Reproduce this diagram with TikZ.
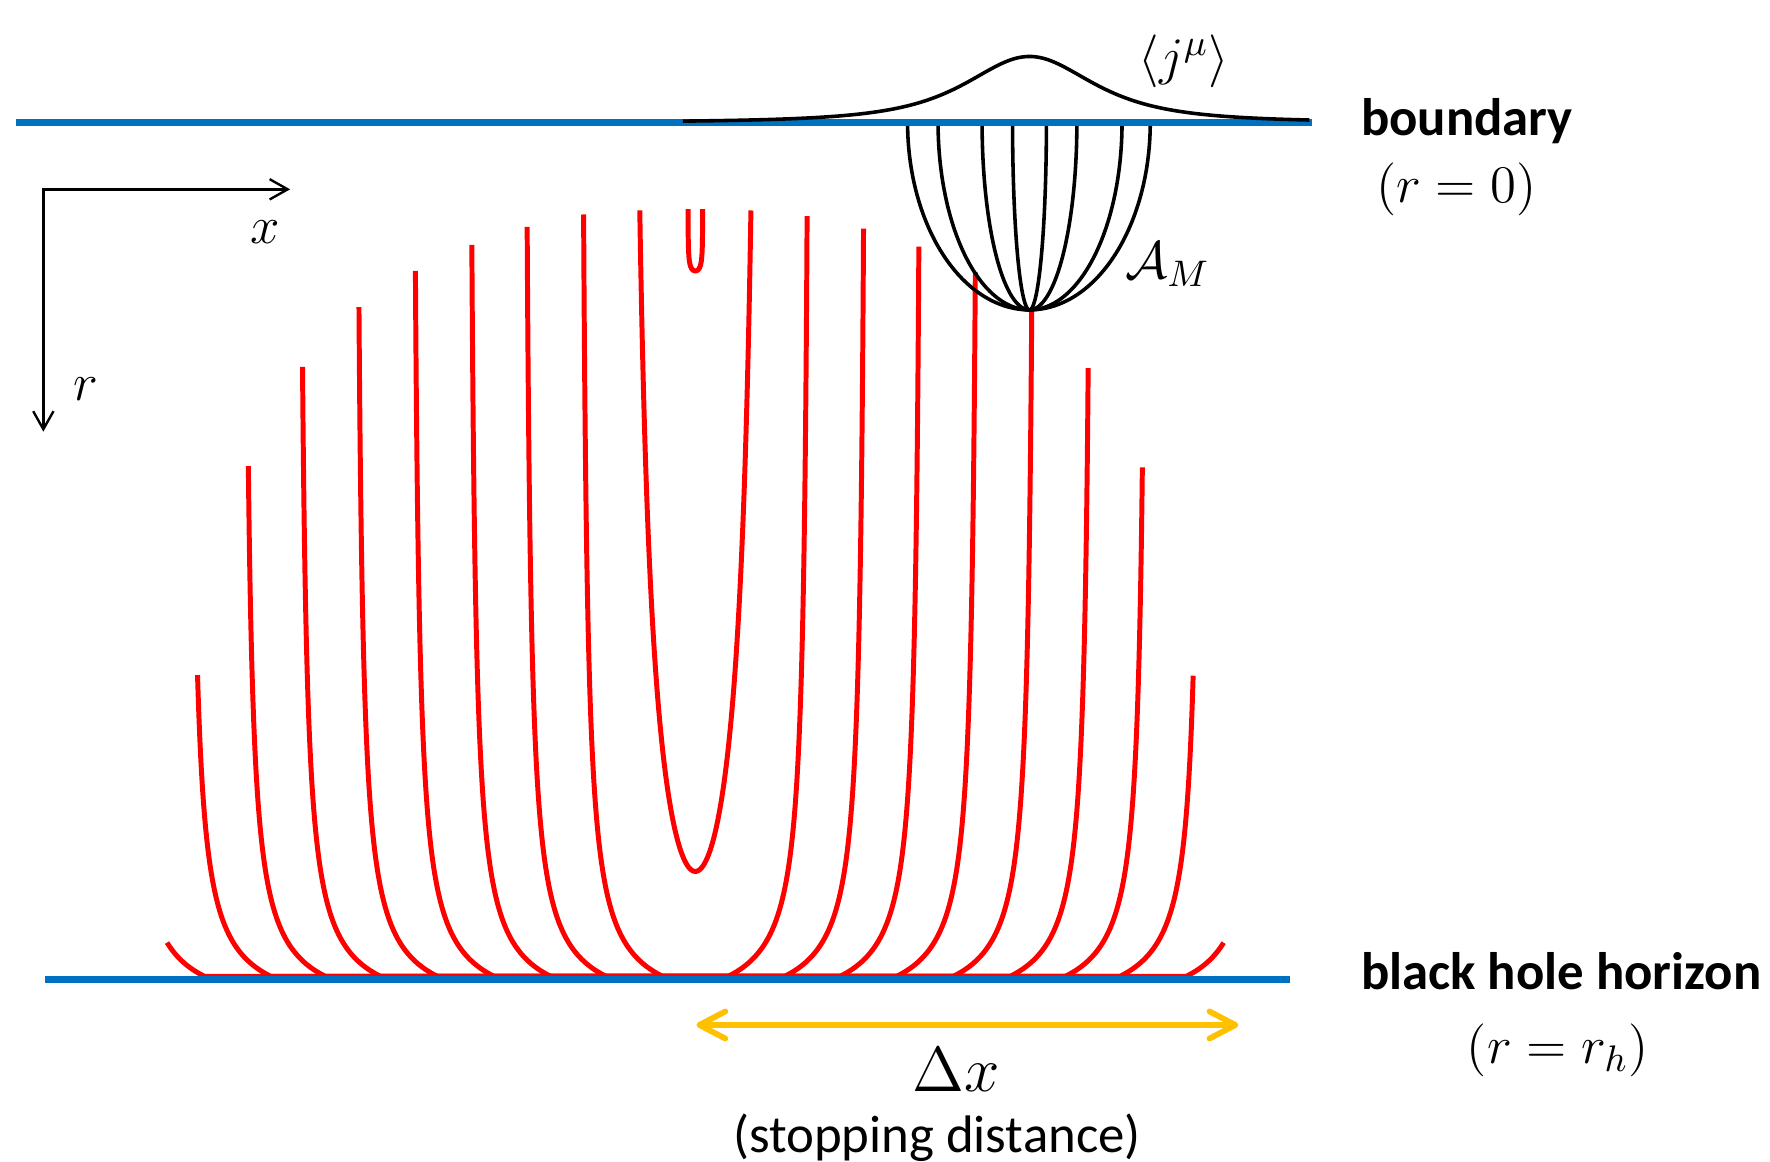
\documentclass[tikz,border=0pt]{standalone}
\usepackage{fix-cm}
\usepackage[no-math]{fontspec}
\setmainfont{Carlito}
\usetikzlibrary{arrows.meta}
\definecolor{bdry}{HTML}{0070C0}
\definecolor{strg}{HTML}{FF0000}
\definecolor{stop}{HTML}{FFC000}

\begin{document}
\begin{tikzpicture}[x=0.01cm,y=-0.01cm,font=\fontsize{13.3}{16}\selectfont,
 bl/.style={draw=bdry,line width=1.8pt},
 rd/.style={draw=strg,line width=1.25pt},
 bk/.style={draw=black,line width=0.9pt},
 ax/.style={{Straight Barb[length=1.6mm,width=1.8mm]}-{Straight Barb[length=1.6mm,width=1.8mm]},line width=0.6pt},
 ya/.style={{Straight Barb[length=2.3mm,width=2.4mm,round]}-{Straight Barb[length=2.3mm,width=2.4mm,round]},draw=stop,line width=1.45pt},
 lb/.style={inner sep=0pt},
 bf/.style={inner sep=0pt,font=\fontsize{13.3}{16}\selectfont\bfseries}]
\useasboundingbox (0,0) rectangle (1568,1029);

% strings that turn before the horizon
\draw[rd] plot[domain=-7.4:7.4,samples=40,variable=\t] ({616+6.5*tanh(\t/2.6)},{240-\t*\t});
\draw[rd] plot[domain=-24.2:24.2,samples=120,variable=\t] ({616+57*tanh(\t/18.5)},{772-\t*\t});
% strings lying on the horizon
\foreach \xl/\yt in {517/190,467/201,418/217,368/240,318/272,268/325,220/413,175/598,148/835}{
 \pgfmathsetmacro{\hh}{866.5-\yt}
 \pgfmathsetmacro{\cc}{2700/(\hh+35)}
 \draw[rd] plot[domain=-1:1,samples=201,variable=\t]
  ({616+sign(\t)*(616-\xl-2700/(36.5+(\hh-1.5)*\t*\t)+\cc)},{865-(\hh-1.5)*\t*\t});
}

% bowl A_M
\foreach \a in {-108,-81,-42,-15,15,42,82,107}
 \draw[bk] plot[domain=0:90,samples=60,variable=\t] ({912+(\a)*cos(\t)},{108.5+166*sin(\t)});

% boundary and horizon
\draw[bl] (14,108.5) -- (1162,108.5);
\draw[bl] (40,868) -- (1143,868);

% <j^mu> profile
\draw[bk] plot[domain=605:1160,samples=200,variable=\t] (\t,{108.5-58.5/(1+((\t-912)/88)^2)^1.5});

% axes
\coordinate (o) at (38.4,167.7);
\coordinate (xe) at (257,167.7);
\coordinate (re) at (38.4,382.4);
\draw[ax] (xe) -- (o) -- (re);
\node[lb,anchor=base] (xlab) at (234.5,216) {$x$};
\node[lb,anchor=base] (rlab) at (76,355) {$r$};

\node[lb,anchor=base] (jmu) at (1049,66) {$\langle j^{\mu}\rangle$};
\node[lb,anchor=base west] (am) at (996,247) {$\mathcal{A}_M$};

\node[bf,anchor=base west] (bd) at (1205,120) {boundary};
\node[lb,anchor=base] (bdr) at (1290,179) {$(r=0)$};
\node[bf,anchor=base west] (bh) at (1205,877) {black hole horizon};
\node[lb,anchor=base] (bhr) at (1380,942) {$(r=r_h)$};

% stopping distance
\coordinate (dl) at (617,908);
\coordinate (dr) at (1097,908);
\draw[ya] (dl) -- (dr);
\node[lb,anchor=base,font=\fontsize{16}{19}\selectfont] (dx) at (847,967) {$\Delta x$};
\node[lb,anchor=base] (sd) at (830,1021) {(stopping distance)};
\end{tikzpicture}
\end{document}
